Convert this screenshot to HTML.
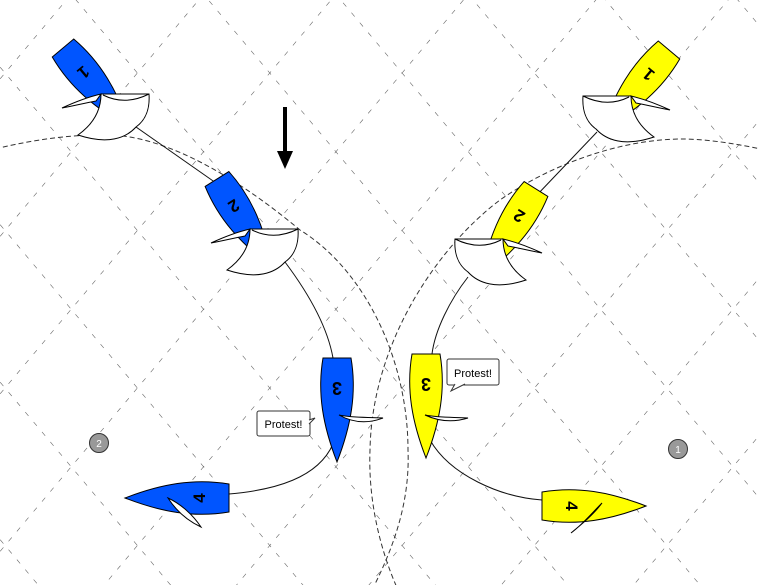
<!DOCTYPE html>
<html><head><meta charset="utf-8"><style>
html,body{margin:0;padding:0;background:#fff;width:760px;height:585px;overflow:hidden;}
svg{display:block;}
text{font-family:"Liberation Sans",sans-serif;}
</style></head><body>
<svg width="760" height="585" viewBox="0 0 760 585" xmlns="http://www.w3.org/2000/svg">
<g stroke="#666" stroke-width="0.6" stroke-dasharray="5,8" fill="none">
<line x1="-50" y1="-937.5" x2="810" y2="85.9"/>
<line x1="-50" y1="-780" x2="810" y2="243.4"/>
<line x1="-50" y1="-622.5" x2="810" y2="400.9"/>
<line x1="-50" y1="-465" x2="810" y2="558.4"/>
<line x1="-50" y1="-307.5" x2="810" y2="715.9"/>
<line x1="-50" y1="-150" x2="810" y2="873.4"/>
<line x1="-50" y1="7.5" x2="810" y2="1030.9"/>
<line x1="-50" y1="165" x2="810" y2="1188.4"/>
<line x1="-50" y1="322.5" x2="810" y2="1345.9"/>
<line x1="-50" y1="480" x2="810" y2="1503.4"/>
<line x1="-50" y1="138.5" x2="810" y2="-884.9"/>
<line x1="-50" y1="296" x2="810" y2="-727.4"/>
<line x1="-50" y1="453.5" x2="810" y2="-569.9"/>
<line x1="-50" y1="611" x2="810" y2="-412.4"/>
<line x1="-50" y1="768.5" x2="810" y2="-254.9"/>
<line x1="-50" y1="926" x2="810" y2="-97.4"/>
<line x1="-50" y1="1083.5" x2="810" y2="60.1"/>
<line x1="-50" y1="1241" x2="810" y2="217.6"/>
<line x1="-50" y1="1398.5" x2="810" y2="375.1"/>
<line x1="-50" y1="1556" x2="810" y2="532.6"/>
</g>
<g stroke="#333" stroke-width="1" stroke-dasharray="5,3" fill="none">
<path d="M-5,149 C40,138 80,134 110,135 C170,137 240,180 300,230 C365,270 408,360 408,450 C410,500 395,545 372,590"/>
<path d="M765,150 C730,142 700,139 683,139 C620,139 550,165 500,200 C440,245 372,340 370,450 C368,500 380,550 398,590"/>
</g>
<g stroke="#111" stroke-width="1" fill="none">
<path d="M136,127 L216,183"/>
<path d="M285,262 C312,298 328,330 333,358"/>
<path d="M333,444 C318,478 275,490 229,494"/>
<path d="M597,132 L536,196"/>
<path d="M468,277 C450,300 435,330 432,354"/>
<path d="M430,440 C450,475 500,497 542,500"/>
</g>
<line x1="285" y1="107" x2="285" y2="155" stroke="#000" stroke-width="4"/>
<polygon points="277,151 293,151 285,169" fill="#000"/>

<defs>
<path id="hull" d="M-14,0 L14,0 C20,35 14,68 0,104 C-14,68 -20,35 -14,0Z"/>
</defs>

<!-- BLUE 1 -->
<g transform="translate(63,48) rotate(-40)">
<use href="#hull" fill="#0055ff" stroke="#000" stroke-width="1"/>
<text x="0" y="-26" transform="rotate(180)" font-size="17" font-weight="bold" text-anchor="middle">1</text>
</g>
<g id="spin" fill="#fff" stroke="#000" stroke-width="1">
<path d="M62,108 C75,102 88,97 101,94 L96,101 C85,103 73,106 62,108Z"/>
<path d="M101,94 L149,94 C150,108 146,120 136,127 C126,138 108,145 78,135 C92,125 101,112 101,94Z"/>
<path d="M103,95 Q125,106 149,94" fill="none"/>
</g>
<!-- BLUE 2 -->
<g transform="translate(217,179) rotate(-32)">
<use href="#hull" fill="#0055ff" stroke="#000" stroke-width="1"/>
<text x="0" y="-26" transform="rotate(180)" font-size="17" font-weight="bold" text-anchor="middle">2</text>
</g>
<use href="#spin" transform="translate(149,135)"/>
<!-- BLUE 3 -->
<g transform="translate(337,358)">
<use href="#hull" fill="#0055ff" stroke="#000" stroke-width="1"/>
<text x="0" y="-24" transform="rotate(180)" font-size="18" font-weight="bold" text-anchor="middle">3</text>
</g>
<path d="M339,415 C355,424 370,423 383,418 C368,417 352,418 339,415Z" fill="#fff" stroke="#000" stroke-width="1"/>
<!-- BLUE 4 -->
<g transform="translate(229,498) rotate(90)">
<use href="#hull" fill="#0055ff" stroke="#000" stroke-width="1"/>
<text x="0" y="-24" transform="rotate(180)" font-size="17" font-weight="bold" text-anchor="middle">4</text>
</g>
<path d="M168,498 C177,512 188,521 201,527 C193,515 181,504 168,498Z" fill="#fff" stroke="#000" stroke-width="1"/>

<!-- YELLOW 1 -->
<g transform="translate(669,50) rotate(40)">
<use href="#hull" fill="#ffff00" stroke="#000" stroke-width="1"/>
<text x="0" y="-26" transform="rotate(180)" font-size="17" font-weight="bold" text-anchor="middle">1</text>
</g>
<use href="#spin" transform="translate(732,2) scale(-1,1)"/>
<!-- YELLOW 2 -->
<g transform="translate(536,189) rotate(32)">
<use href="#hull" fill="#ffff00" stroke="#000" stroke-width="1"/>
<text x="0" y="-26" transform="rotate(180)" font-size="17" font-weight="bold" text-anchor="middle">2</text>
</g>
<use href="#spin" transform="translate(753,10) scale(-1,1) translate(149,135)"/>
<!-- YELLOW 3 -->
<g transform="translate(426,354)">
<use href="#hull" fill="#ffff00" stroke="#000" stroke-width="1"/>
<text x="0" y="-24" transform="rotate(180)" font-size="18" font-weight="bold" text-anchor="middle">3</text>
</g>
<path d="M425,415 C440,422 455,422 468,418 C455,417 440,418 425,415Z" fill="#fff" stroke="#000" stroke-width="1"/>
<!-- YELLOW 4 -->
<g transform="translate(542,506) rotate(-90)">
<use href="#hull" fill="#ffff00" stroke="#000" stroke-width="1"/>
<text x="0" y="-24" transform="rotate(180)" font-size="17" font-weight="bold" text-anchor="middle">4</text>
</g>
<path d="M602,503 C591,514 582,525 571,533 C582,524 594,514 602,503Z" fill="#fff" stroke="#000" stroke-width="1"/>

<g fill="#fff" stroke="#333" stroke-width="1">
<rect x="257" y="411" width="53" height="25" rx="2"/>
<path d="M309,420 L315,418 L309,424"/>
<rect x="447" y="359" width="52" height="26" rx="2"/>
<path d="M455,384 L451,391 L465,384"/>
</g>
<text x="283.5" y="428" font-size="11" text-anchor="middle">Protest!</text>
<text x="473" y="377" font-size="11" text-anchor="middle">Protest!</text>

<circle cx="99" cy="443" r="9.5" fill="#999" stroke="#333" stroke-width="1"/>
<text x="99" y="447" font-size="10" text-anchor="middle" fill="#fff">2</text>
<circle cx="678" cy="449" r="9.5" fill="#999" stroke="#333" stroke-width="1"/>
<text x="678" y="453" font-size="10" text-anchor="middle" fill="#fff">1</text>
</svg>
</body></html>
